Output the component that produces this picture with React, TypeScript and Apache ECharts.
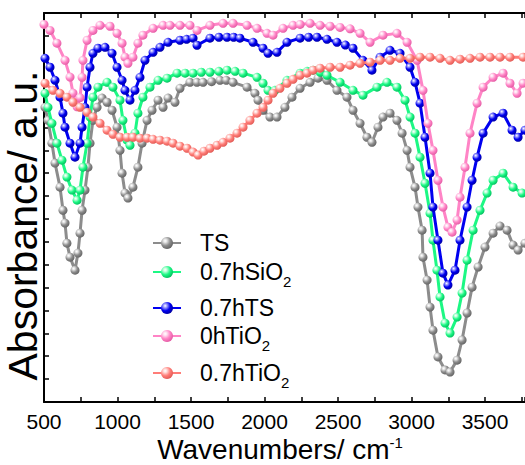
import React, { useEffect, useRef } from 'react';
import * as echarts from 'echarts';

// Wavenumber (cm-1) / absorbance (a.u., offset) pairs
const seriesNames = ['TS', '0.7hSiO2', '0.7hTS', '0hTiO2', '0.7hTiO2'];

const tsData = [
  [507, 12.88], [527, 12.31], [554, 11.31], [575, 10.44], [609, 9.39], [629, 8.38], [643, 7.82], [656, 6.94],
  [677, 6.33], [711, 5.76], [731, 6.51], [745, 7.38], [759, 8.38], [779, 9.26], [799, 10.26], [813, 11.31],
  [833, 12.31], [861, 12.88], [895, 13.28], [929, 13.1], [963, 12.75], [997, 12.01], [1017, 11.0], [1031, 10.0],
  [1051, 9.13], [1071, 8.91], [1105, 9.39], [1139, 10.26], [1167, 11.31], [1201, 12.31], [1235, 12.75],
  [1276, 13.19], [1310, 12.88], [1344, 13.28], [1391, 13.1], [1425, 13.71], [1493, 13.97], [1540, 13.97],
  [1582, 13.97], [1640, 14.0], [1697, 14.06], [1740, 14.06], [1786, 13.97], [1881, 13.76], [1935, 13.49],
  [1956, 13.19], [1990, 12.75], [2037, 12.45], [2085, 12.45], [2139, 12.88], [2187, 13.32], [2242, 13.71],
  [2310, 13.97], [2364, 14.15], [2425, 14.06], [2493, 13.62], [2561, 13.32], [2602, 12.75], [2650, 12.18],
  [2697, 11.57], [2731, 11.35], [2772, 12.01], [2806, 12.45], [2854, 12.62], [2901, 12.31], [2936, 11.75],
  [2970, 11.0], [2990, 10.26], [3024, 9.39], [3044, 8.52], [3072, 7.51], [3078, 6.33], [3106, 5.33],
  [3126, 4.15], [3146, 3.14], [3180, 1.97], [3228, 1.4], [3262, 1.31], [3310, 1.83], [3344, 2.71],
  [3378, 3.89], [3412, 5.02], [3453, 5.9], [3500, 6.77], [3555, 7.38], [3602, 7.69], [3650, 7.51],
  [3691, 6.86], [3725, 6.64], [3772, 6.94]
];

const siO2Data = [
  [507, 13.49], [527, 12.88], [554, 12.18], [588, 11.31], [622, 10.57], [656, 9.83], [690, 9.26], [725, 8.82],
  [745, 9.26], [765, 10.26], [793, 11.31], [813, 12.45], [833, 13.32], [867, 13.76], [929, 13.97], [969, 13.76],
  [1017, 13.19], [1037, 12.31], [1065, 11.44], [1085, 11.22], [1119, 11.75], [1139, 12.62], [1173, 13.32],
  [1221, 13.76], [1276, 14.06], [1337, 14.15], [1405, 14.37], [1460, 14.37], [1514, 14.37], [1570, 14.41],
  [1629, 14.41], [1690, 14.45], [1745, 14.5], [1800, 14.45], [1854, 14.37], [1949, 14.19], [1990, 13.93],
  [2024, 13.62], [2071, 13.62], [2153, 14.06], [2242, 14.37], [2290, 14.45], [2330, 14.5], [2380, 14.41],
  [2425, 14.28], [2514, 13.97], [2602, 13.62], [2670, 13.41], [2765, 13.76], [2833, 13.97], [2901, 13.76],
  [2956, 13.19], [2990, 12.45], [3024, 11.75], [3058, 10.7], [3092, 9.56], [3126, 8.25], [3146, 7.07],
  [3173, 5.76], [3194, 4.59], [3228, 3.45], [3262, 3.01], [3310, 3.71], [3344, 4.76], [3378, 6.2],
  [3419, 7.51], [3466, 8.38], [3514, 9.13], [3555, 9.69], [3623, 10.0], [3691, 9.39], [3752, 9.13]
];

const tsHData = [
  [507, 15.02], [541, 14.63], [575, 14.06], [609, 13.32], [629, 12.62], [643, 12.01], [677, 11.31], [711, 10.7],
  [745, 11.31], [759, 12.01], [779, 12.88], [793, 13.76], [813, 14.63], [833, 15.24], [867, 15.46], [915, 15.5],
  [963, 15.24], [997, 14.63], [1031, 14.06], [1051, 13.62], [1085, 13.19], [1119, 13.62], [1153, 14.19],
  [1187, 14.93], [1242, 15.28], [1289, 15.5], [1344, 15.72], [1425, 15.81], [1470, 15.85], [1514, 15.9],
  [1541, 15.59], [1629, 15.9], [1690, 15.94], [1745, 15.94], [1790, 15.94], [1833, 15.9], [1922, 15.72],
  [1990, 15.46], [2024, 15.24], [2085, 15.28], [2153, 15.72], [2242, 15.9], [2300, 15.94], [2357, 15.94],
  [2425, 15.85], [2493, 15.72], [2550, 15.6], [2602, 15.46], [2670, 14.93], [2731, 14.5], [2786, 15.07],
  [2854, 15.37], [2922, 15.24], [2990, 14.63], [3024, 13.97], [3058, 13.06], [3092, 11.57], [3126, 10.0],
  [3146, 8.52], [3180, 7.07], [3214, 5.63], [3248, 5.11], [3296, 5.76], [3330, 7.07], [3378, 8.52],
  [3412, 9.69], [3446, 10.7], [3487, 11.75], [3555, 12.45], [3623, 12.62], [3684, 11.88], [3725, 11.57],
  [3772, 11.88]
];

const tiO2Data0h = [
  [500, 16.5], [541, 16.24], [588, 15.68], [643, 14.93], [677, 14.2], [697, 13.5], [711, 13.1], [725, 12.9],
  [745, 13.3], [759, 14.19], [765, 14.93], [793, 15.81], [833, 16.24], [881, 16.46], [949, 16.42], [997, 16.11],
  [1031, 15.68], [1051, 15.07], [1071, 14.8], [1105, 15.07], [1139, 15.68], [1173, 16.03], [1242, 16.33],
  [1310, 16.46], [1357, 16.46], [1425, 16.46], [1493, 16.46], [1541, 16.24], [1629, 16.46], [1718, 16.55],
  [1786, 16.55], [1881, 16.46], [1949, 16.33], [2017, 16.11], [2058, 16.03], [2126, 16.33], [2194, 16.46],
  [2242, 16.5], [2310, 16.55], [2378, 16.46], [2446, 16.42], [2514, 16.37], [2582, 16.31], [2650, 16.11],
  [2718, 15.72], [2806, 16.03], [2901, 16.11], [2970, 15.72], [3038, 14.93], [3078, 13.62], [3112, 12.18],
  [3146, 11.0], [3180, 9.69], [3214, 8.52], [3248, 7.64], [3276, 7.42], [3310, 7.95], [3330, 8.95],
  [3364, 10.26], [3398, 11.75], [3446, 13.06], [3487, 13.76], [3555, 14.19], [3623, 14.37], [3670, 13.93],
  [3718, 13.49], [3759, 13.93]
];

const tiO2Data07h = [
  [507, 13.93], [561, 13.62], [609, 13.49], [656, 13.32], [697, 13.1], [745, 12.88], [793, 12.66], [833, 12.45],
  [881, 12.18], [929, 11.88], [969, 11.7], [1017, 11.57], [1065, 11.57], [1105, 11.57], [1153, 11.53],
  [1201, 11.53], [1242, 11.48], [1289, 11.44], [1337, 11.4], [1378, 11.31], [1425, 11.18], [1473, 11.09],
  [1514, 10.92], [1548, 10.79], [1588, 10.96], [1629, 11.09], [1677, 11.22], [1718, 11.35], [1765, 11.53],
  [1813, 11.75], [1854, 12.01], [1901, 12.31], [1949, 12.62], [1990, 12.88], [2024, 13.19], [2058, 13.49],
  [2105, 13.71], [2153, 13.93], [2194, 14.1], [2242, 14.28], [2289, 14.37], [2330, 14.5], [2378, 14.59],
  [2446, 14.63], [2514, 14.63], [2582, 14.72], [2650, 14.8], [2718, 14.85], [2786, 14.93], [2854, 14.93],
  [2922, 15.02], [2990, 15.02], [3058, 15.07], [3126, 15.07], [3194, 15.02], [3262, 14.93], [3330, 14.98],
  [3398, 15.02], [3466, 15.07], [3534, 15.07], [3602, 15.07], [3670, 15.07], [3759, 15.07]
];

const xTickLabels = ['500', '1000', '1500', '2000', '2500', '3000', '3500'];
const seriesData = [tsData, siO2Data, tsHData, tiO2Data0h, tiO2Data07h];

// styling (not data)
const palette = [
  { base: '#8c8c8c', light: '#e6e6e6', dark: '#5e5e5e' },
  { base: '#1cf884', light: '#c8ffe0', dark: '#00b85a' },
  { base: '#0000f0', light: '#a8a8ff', dark: '#00009a' },
  { base: '#ff84c6', light: '#ffe2f2', dark: '#e0559f' },
  { base: '#ff7d78', light: '#ffe0de', dark: '#dd5550' }
];
const legendCenters = [243, 272, 308, 336, 373];
const LEG_LH = 34;
const FONT = "'Liberation Sans', Arial, sans-serif";

function sphere(c: { base: string; light: string; dark: string }) {
  return {
    type: 'radial', x: 0.35, y: 0.32, r: 0.75,
    colorStops: [
      { offset: 0, color: '#ffffff' },
      { offset: 0.18, color: c.light },
      { offset: 0.55, color: c.base },
      { offset: 1, color: c.dark }
    ]
  };
}

const subFormatter = (name: string) => name.replace(/O2$/, 'O{s|2}');

export default function App() {
  const ref = useRef<HTMLDivElement>(null);
  useEffect(() => {
    const chart = echarts.init(ref.current as HTMLDivElement, null, { renderer: 'svg' });
    const xCommon = {
      type: 'value',
      min: 500,
      max: 3772,
      interval: 250,
      splitLine: { show: false },
      axisLine: { show: true, onZero: false, lineStyle: { color: '#000', width: 2 } },
      axisTick: { show: true, inside: true, length: 5, lineStyle: { color: '#000', width: 1.5 } }
    };
    chart.setOption({
      animation: false,
      backgroundColor: '#ffffff',
      grid: { left: 44, right: 0, top: 13, bottom: 63, containLabel: false, outerBoundsMode: 'none' },
      xAxis: [
        {
          ...xCommon,
          position: 'bottom',
          name: 'Wavenumbers/ cm{sup|-1}',
          nameLocation: 'middle',
          nameGap: 33,
          nameMoveOverlap: false,
          nameTextStyle: {
            fontFamily: FONT, fontSize: 28, lineHeight: 28, color: '#000', padding: [0, 9, 0, 0],
            rich: { sup: { fontFamily: FONT, fontSize: 15, lineHeight: 4, verticalAlign: 'top', color: '#000' } }
          },
          axisLabel: {
            show: true, margin: 9, color: '#000', fontFamily: FONT, fontSize: 21, lineHeight: 20,
            showMinLabel: true, showMaxLabel: true,
            formatter: (v: number) => {
              const s = String(Math.round(v));
              return xTickLabels.indexOf(s) >= 0 ? s : '';
            }
          }
        },
        { ...xCommon, position: 'top', axisLabel: { show: false } }
      ],
      yAxis: {
        type: 'value',
        min: 0,
        max: 17,
        interval: 1,
        position: 'left',
        name: 'Absorbance/ a.u.',
        nameLocation: 'middle',
        nameGap: 1,
        nameMoveOverlap: false,
        nameTextStyle: { fontFamily: FONT, fontSize: 41, lineHeight: 41, color: '#000', padding: [0, 36, 0, 0] },
        splitLine: { show: false },
        axisLine: { show: true, onZero: false, lineStyle: { color: '#000', width: 2 } },
        axisTick: { show: true, inside: true, length: 5, lineStyle: { color: '#000', width: 1.5 } },
        axisLabel: { show: false }
      },
      legend: seriesNames.map((n, i) => ({
        data: [n],
        left: 152,
        top: legendCenters[i] - LEG_LH / 2,
        orient: 'vertical',
        padding: 0,
        itemWidth: 28,
        itemHeight: 15,
        selectedMode: false,
        formatter: subFormatter,
        textStyle: {
          fontFamily: FONT, fontSize: 23, lineHeight: LEG_LH, color: '#000', padding: [0, 0, 0, 14],
          rich: { s: { fontFamily: FONT, fontSize: 15, lineHeight: 15, verticalAlign: 'bottom', color: '#000' } }
        }
      })),
      series: seriesNames.map((n, i) => ({
        name: n,
        type: 'line',
        xAxisIndex: 0,
        data: seriesData[i],
        symbol: 'circle',
        symbolSize: 9,
        showSymbol: true,
        showAllSymbol: true,
        lineStyle: { color: palette[i].base, width: 3 },
        itemStyle: { color: sphere(palette[i]), borderWidth: 0 },
        z: 2 + i
      }))
    });
    return () => chart.dispose();
  }, []);
  return <div ref={ref} style={{ position: 'fixed', left: 0, top: 0, width: 525, height: 465 }} />;
}
